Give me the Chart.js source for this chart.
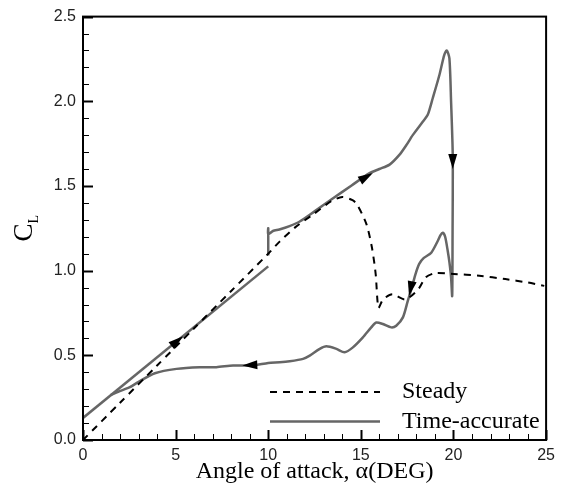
<!DOCTYPE html>
<html lang="en">
<head>
  <meta charset="UTF-8">
  <title>Lift coefficient vs angle of attack</title>
  <style>
    body {
      margin: 0;
      background: #fff;
    }
    #wrap {
      width: 561px;
      height: 488px;
    }
  </style>
  <script src="https://cdn.jsdelivr.net/npm/chart.js"></script>
</head>
<body>

<div id="wrap"><canvas id="chart" width="561" height="488"></canvas></div>

<script>
// steady solution (dashed)
const steadyAlpha = [0, 2, 4, 6, 8, 10, 10.6, 11.5, 12.4, 13.4, 14.0, 14.55, 14.8, 15.3, 15.6, 15.8, 15.95, 16.2, 16.7, 17.4, 18.1, 18.5, 19.0, 20.0, 21.4, 22.8, 24.0, 24.9];
const steadyCL    = [0.0, 0.22, 0.44, 0.66, 0.88, 1.1, 1.17, 1.26, 1.33, 1.41, 1.435, 1.416, 1.39, 1.275, 1.135, 0.98, 0.78, 0.83, 0.86, 0.83, 0.89, 0.96, 0.985, 0.98, 0.97, 0.95, 0.93, 0.91];

// time-accurate: initial ramp up to 10 deg
const rampAlpha = [0, 10];
const rampCL    = [0.13, 1.025];

// time-accurate: restart at 10 deg, ramp to stall, drop and return
const cycleAlpha = [10, 10, 10, 10.25, 10.6, 11.15, 11.7, 12.5, 13.5, 14.5, 15.47, 16.0, 16.55, 17.09, 17.45, 17.8, 18.35, 18.61, 18.88, 19.24, 19.5, 19.64, 19.78, 19.87, 19.96, 19.95, 19.93,
                    19.87, 19.78, 19.69, 19.55, 19.42, 19.3, 19.15, 18.8, 18.4, 18.15, 17.95, 17.75, 17.53, 17.27, 16.91, 16.64, 16.19, 15.83, 15.56, 15.11, 14.57, 14.12, 13.68, 13.14, 12.78, 12.24, 11.88, 11.16, 10.62,
                    10.0, 9.18, 8.1, 7.2, 6.3, 5.05, 3.88, 2.98, 2.5, 1.9, 1.5];
const cycleCL    = [1.09, 1.25, 1.215, 1.234, 1.243, 1.263, 1.29, 1.35, 1.427, 1.503, 1.576, 1.60, 1.626, 1.685, 1.74, 1.80, 1.88, 1.92, 2.018, 2.155, 2.273, 2.30, 2.253, 2.0, 1.68, 1.2, 0.85,
                    0.96, 1.05, 1.116, 1.2, 1.224, 1.21, 1.175, 1.106, 1.075, 1.04, 0.98, 0.9, 0.82, 0.724, 0.675, 0.665, 0.685, 0.694, 0.665, 0.606, 0.547, 0.518, 0.538, 0.553, 0.538, 0.498, 0.479, 0.465, 0.459,
                    0.455, 0.44, 0.44, 0.43, 0.43, 0.42, 0.394, 0.342, 0.31, 0.285, 0.265];

// direction arrows: tip and a point behind it on the curve
const arrowTipAlpha  = [5.4, 15.65, 19.96, 17.6, 8.6];
const arrowTipCL     = [0.613, 1.576, 1.6, 0.85, 0.44];
const arrowFromAlpha = [4.5, 14.5, 19.96, 17.9, 9.6];
const arrowFromCL    = [0.533, 1.503, 1.9, 1.0, 0.445];

const xTicks = [0, 5, 10, 15, 20, 25];
const yTicks = [0, 0.5, 1.0, 1.5, 2.0, 2.5];

const pts = (xs, ys) => xs.map((x, i) => ({ x: x, y: ys[i] }));

const SOLID = '#666';
const serif = '"Liberation Serif", "Times New Roman", serif';
const sans = '"Liberation Sans", Arial, sans-serif';

// frame, inward ticks, arrows, legend and the C_L title
const decor = {
  id: 'decor',
  afterDatasetsDraw(chart) {
    const { ctx, chartArea: a, scales: { x, y } } = chart;
    ctx.save();

    // ticks
    ctx.strokeStyle = '#000';
    for (let v = 0; v <= 25.001; v += 1) {
      const px = Math.round(x.getPixelForValue(v)) + 0.5;
      const major = Math.abs(v % 5) < 1e-6;
      ctx.lineWidth = major ? 2 : 1;
      ctx.beginPath();
      ctx.moveTo(px, a.bottom);
      ctx.lineTo(px, a.bottom - (major ? 10 : 6));
      ctx.stroke();
    }
    for (let i = 0; i <= 25; i++) {
      const v = i / 10;
      const py = Math.round(y.getPixelForValue(v)) + 0.5;
      const major = i % 5 === 0;
      ctx.lineWidth = major ? 2 : 1;
      ctx.beginPath();
      ctx.moveTo(a.left, py);
      ctx.lineTo(a.left + (major ? 10 : 6), py);
      ctx.stroke();
    }

    // frame
    ctx.lineWidth = 2;
    ctx.strokeRect(a.left, a.top, a.right - a.left, a.bottom - a.top);

    // arrows
    ctx.fillStyle = '#000';
    arrowTipAlpha.forEach((ax, i) => {
      const tx = x.getPixelForValue(ax), ty = y.getPixelForValue(arrowTipCL[i]);
      const fx = x.getPixelForValue(arrowFromAlpha[i]), fy = y.getPixelForValue(arrowFromCL[i]);
      const ang = Math.atan2(ty - fy, tx - fx);
      const len = 15, hw = 4.5;
      ctx.save();
      ctx.translate(tx, ty);
      ctx.rotate(ang);
      ctx.beginPath();
      ctx.moveTo(0, 0);
      ctx.lineTo(-len, -hw);
      ctx.lineTo(-len, hw);
      ctx.closePath();
      ctx.fill();
      ctx.restore();
    });

    // legend
    const ds = chart.data.datasets;
    const rows = [{ d: ds[0], y: 392 }, { d: ds[1], y: 421.5 }];
    ctx.font = '24px ' + serif;
    ctx.textBaseline = 'middle';
    ctx.textAlign = 'left';
    rows.forEach(r => {
      ctx.strokeStyle = r.d.borderColor;
      ctx.lineWidth = r.d.borderWidth;
      ctx.setLineDash(r.d.borderDash || []);
      ctx.beginPath();
      ctx.moveTo(270, r.y);
      ctx.lineTo(380, r.y);
      ctx.stroke();
      ctx.setLineDash([]);
      ctx.fillStyle = '#000';
      ctx.fillText(r.d.label, 402, r.y);
    });

    // y title: C with subscript L
    ctx.translate(32, (a.top + a.bottom) / 2);
    ctx.rotate(-Math.PI / 2);
    ctx.textBaseline = 'alphabetic';
    ctx.font = '27px ' + serif;
    const wC = ctx.measureText('C').width;
    ctx.font = '14px ' + serif;
    const wL = ctx.measureText('L').width;
    const start = -(wC + wL) / 2;
    ctx.font = '27px ' + serif;
    ctx.fillText('C', start, 0);
    ctx.font = '14px ' + serif;
    ctx.fillText('L', start + wC, 6);

    ctx.restore();
  }
};

new Chart(document.getElementById('chart'), {
  type: 'scatter',
  data: {
    datasets: [
      {
        label: 'Steady',
        data: pts(steadyAlpha, steadyCL),
        showLine: true,
        borderColor: '#000',
        borderWidth: 2,
        borderDash: [7, 6],
        pointRadius: 0,
        tension: 0.25
      },
      {
        label: 'Time-accurate',
        data: pts(rampAlpha, rampCL),
        showLine: true,
        borderColor: SOLID,
        borderWidth: 2.5,
        pointRadius: 0
      },
      {
        label: 'Time-accurate',
        data: pts(cycleAlpha, cycleCL),
        showLine: true,
        borderColor: SOLID,
        borderWidth: 2.5,
        pointRadius: 0,
        tension: 0.25
      }
    ]
  },
  options: {
    responsive: false,
    animation: false,
    devicePixelRatio: 1,
    layout: { padding: { left: 0, right: 14, top: 15, bottom: 0 } },
    plugins: {
      legend: { display: false },
      tooltip: { enabled: false }
    },
    scales: {
      x: {
        type: 'linear',
        min: 0,
        max: 25,
        grid: { display: false, drawTicks: false },
        border: { display: false },
        afterBuildTicks: s => { s.ticks = xTicks.map(v => ({ value: v })); },
        ticks: {
          padding: 6,
          color: '#222',
          font: { family: sans, size: 16 },
          callback: v => String(v)
        },
        title: {
          display: true,
          text: 'Angle of attack, \u03b1(DEG)',
          color: '#000',
          font: { family: serif, size: 24 },
          padding: { top: 0, bottom: 2 }
        },
        afterFit: s => { s.height = 48; }
      },
      y: {
        type: 'linear',
        min: 0,
        max: 2.5,
        grid: { display: false, drawTicks: false },
        border: { display: false },
        afterBuildTicks: s => { s.ticks = yTicks.map(v => ({ value: v })); },
        ticks: {
          padding: 7,
          color: '#222',
          font: { family: sans, size: 16 },
          callback: v => v.toFixed(1)
        },
        afterFit: s => { s.width = 83; }
      }
    }
  },
  plugins: [decor]
});
</script>
</body>
</html>
